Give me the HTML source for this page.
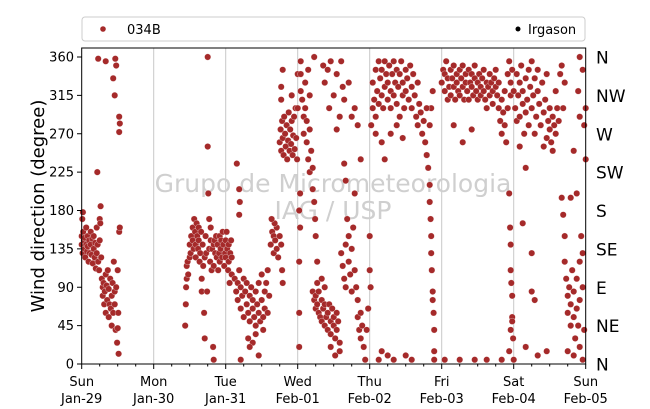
<!DOCTYPE html>
<html><head><meta charset="utf-8"><style>
body{margin:0;background:#fff;}
svg{display:block;font-family:"DejaVu Sans","Liberation Sans",sans-serif;}
</style></head><body>
<svg id="chart" width="650" height="409" viewBox="0 0 650 409">
<g id="grid"></g>
<text x="333" y="192" text-anchor="middle" font-size="25" fill="#cfcfcf">Grupo de Micrometeorologia</text>
<text x="333" y="219" text-anchor="middle" font-size="25" fill="#cfcfcf">IAG / USP</text>
<g id="pts"></g>
<rect x="81.7" y="48" width="504" height="316" fill="none" stroke="#000" stroke-width="1"/>
<g id="axes"></g>
<text transform="translate(44,206) rotate(-90)" text-anchor="middle" font-size="18">Wind direction (degree)</text>
<g>
<rect x="82" y="17" width="503" height="24" rx="3" fill="#fff" stroke="#ccc"/>
<circle cx="103" cy="29" r="2.8" fill="#a52a2a"/>
<text x="127" y="34" font-size="13">034B</text>
<circle cx="518" cy="29" r="2.5" fill="#000"/>
<text x="528" y="34" font-size="13">Irgason</text>
</g>
</svg>
<script>
const dayNames=["Sun","Mon","Tue","Wed","Thu","Fri","Sat","Sun"];
const dayDates=["Jan-29","Jan-30","Jan-31","Feb-01","Feb-02","Feb-03","Feb-04","Feb-05"];
const yTicks=[0,45,90,135,180,225,270,315,360];
const compass=["N","NE","E","SE","S","SW","W","NW","N"];
const samples=[
[0,150],[0,140],[0.3,130],[0.5,155],[0.7,145],[1,135],[1,148],[1.2,125],[1.5,160],[1.5,140],[1.8,132],[2,150],[2,138],[2.3,120],[2.5,145],[2.7,130],[3,155],[3,140],[3.3,128],[3.5,147],[3.7,118],[4,135],[4,150],[4.3,125],[4.5,142],[4.7,112],[5,130],[5,160],[5.3,140],[5.5,120],[0.2,170],[0.4,178],[5.2,225],[5.8,110],[6,145],[6,170],[6.3,185],[6.5,125],[6.2,165],
[6.7,100],[7,90],[7,80],[7.3,95],[7.5,70],[7.7,85],[8,105],[8,60],[8.3,92],[8.5,75],[8.7,110],[9,88],[9,55],[9.3,70],[9.5,100],[9.7,65],[10,80],[10,45],[10.3,95],[10.5,60],[10.7,120],[11,85],[11,70],[11.3,40],[11.5,90],[11.8,25],[12,42],[12,110],[12.2,60],[12.5,155],[12.7,160],[12.3,12],
[5.5,358],[8,355],[11.2,358],[11.5,350],[10.5,335],[11,315],[12.5,290],[12.7,282],[12.5,272],
[34.5,45],[34.7,70],[34.8,90],[35,100],[35,115],[35.3,120],[35.5,105],[36,125],[36,140],[36.3,130],[36.5,150],[37,145],[37,160],[37.3,135],[37.5,170],[37.8,155],[38,140],[38,125],[38.3,165],[38.5,150],[38.8,135],[39,145],[39,160],[39.3,120],[39.5,130],[39.8,155],[40,100],[40,85],[40.3,140],[40.5,115],[40.8,60],[41,30],[41,125],[41.3,150],[41.5,130],[41.8,85],[42,360],[42,255],[42.2,200],[42.5,170],[42.5,135],[42.8,120],[43,145],[43,160],[43.3,110],[43.5,135],[43.8,20],[44,5],[44,115],[44,140],[44.3,145],[44.5,130],[44.8,150],[45,125],[45.3,140],[45.5,110],[45.8,130],[46,150],[46,120],[46.3,135],[46.5,145],[46.8,125],[47,155],[47.2,140],[47.5,115],[47.8,130],[48,145],[48,125],[48.3,155],[48.5,135],[48.8,110],[49,140],[49,120],[49.3,95],[49.5,130],[49.8,145],[50,105],[50,125],
[51.7,235],[52.5,205],[52.5,175],[52.7,190],[53,5],
[51,100],[51.5,85],[52,95],[52,75],[52.5,110],[53,90],[53,65],[53.5,80],[54,100],[54,55],[54.5,85],[55,70],[55,95],[55.5,60],[56,80],[56,50],[56.5,90],[57,65],[57,75],[57.5,55],[58,85],[58,45],[58.5,70],[59,60],[59,95],[59.5,50],[60,75],[60,105],[60.5,55],[61,85],[61,65],[61.5,95],[62,60],[62,110],[62.5,80],[55.5,30],[57,25],[58,35],[60.5,40],[56,20],[59,10],
[63,140],[63.5,155],[64,130],[64,150],[64.5,145],[65,160],[65,135],[65.5,125],[66,150],[66.5,140],[64.3,165],[63.3,170],[66.8,110],[67,95],
[66,260],[66.3,275],[66.5,250],[66.8,285],[67,265],[67.3,245],[67.5,290],[67.8,270],[68,255],[68.3,280],[68.5,240],[68.8,262],[69,295],[69.3,250],[69.5,275],[69.8,258],[70,285],[70.3,245],[70.5,268],[70.8,290],[71,252],[71.3,300],[71.5,265],[71.8,240],[66.5,310],[66.5,325],[67,345],[70,315],[72,300],[72,340],
[72.5,20],[72.5,60],[72.5,120],[72.8,160],[72.5,180],[72.8,200],[73,355],[73,340],[73,320],
[73.5,310],[74,290],[74,270],[74.5,300],[75,260],[75,285],[75.5,240],[76,275],[76,225],[76.5,250],[77,205],[77,230],[77.5,190],[77.8,170],[78,150],[78.5,120],[78.5,95],[74.5,330],[75.5,345],[76,315],[77.5,360],
[77,85],[77.5,75],[78,80],[78,65],[78.5,70],[79,60],[79,85],[79.5,55],[80,75],[80,50],[80.5,65],[81,45],[81,70],[81.5,55],[82,60],[82,40],[82.5,70],[83,50],[83,35],[83.5,65],[84,45],[84,55],[84.5,30],[85,60],[85,40],[85.5,50],[86,25],[80,100],[81,90],[83,20],[84.5,10],[86,15],
[80.5,350],[81,330],[82,345],[82.5,300],[83,355],[84,315],[85,340],[86,290],[86.5,355],[87,325],[87.5,310],[85,275],[87.5,235],[88,215],
[86.5,130],[87,115],[87.5,100],[88,140],[88,90],[88.5,170],[89,150],[89,120],[89.5,105],[90,135],[90,85],[90.5,160],[91,110],[91.5,90],[92,75],[92,55],[92.5,40],[93,60],[93,30],[93.5,45],[94,20],[94.5,5],[95,40],[95.5,65],[96,110],[96,150],[96.3,90],[91,200],[93,240],[90,290],[91,300],[92,280],[89,330],
[96.5,280],[97,300],[97,330],[97.5,310],[98,290],[98,345],[98.5,320],[99,305],[99,355],[99.5,335],[100,315],[100,345],[100.5,300],[101,325],[101,355],[101.5,340],[102,310],[102,330],[102.5,350],[103,320],[103,300],[103.5,340],[104,355],[104,315],[104.5,330],[105,345],[105,305],[105.5,325],[106,340],[106,290],[106.5,355],[107,315],[107,330],[107.5,300],[108,345],[108,320],[108.5,335],[109,310],[109.5,350],[110,325],[110,300],[110.5,340],[111,315],[111.5,290],[112,330],[112,280],[112.5,305],[113,295],[113.5,270],[114,285],[114.5,260],[98,270],[100,260],[101,240],[103,270],[105,280],[107,265],[99,5],[100,15],[102,10],[104,5],[108,10],[110,5],
[115,245],[115.5,230],[116,210],[116,190],[116.3,170],[116.5,150],[116.5,130],[116.7,110],[117,85],[117,75],[117.3,60],[117.5,40],[117.5,15],[116,280],[116.5,300],[117,320],[117.5,5],[115,300],
[120,330],[120.5,345],[121,320],[121,340],[121.5,355],[122,310],[122,335],[122.5,325],[123,345],[123,315],[123.5,335],[124,350],[124,325],[124.5,310],[125,340],[125,330],[125.5,320],[126,345],[126,315],[126.5,335],[127,325],[127,350],[127.5,310],[128,340],[128,330],[128.5,320],[129,345],[129,310],[129.5,330],[130,325],[130,340],[130.5,315],[131,335],[131,350],[131.5,320],[132,330],[132,310],[132.5,340],[133,325],[133,315],[133.5,335],[134,320],[134,345],[134.5,310],[135,330],[135,300],[135.5,325],[136,315],[136,340],[136.5,330],[137,320],[137,305],[137.5,335],[138,325],[138,345],[138.5,315],[139,330],[139,300],[139.5,285],[140,310],[140,270],[140.5,295],[141,280],[141,320],[141.5,260],[142,300],[142,340],[142.5,355],[143,330],[143,315],[143.5,345],[124,280],[127,260],[130,275],[121,5],[126,5],[131,5],[135,5],[140,5],
[142.5,200],[142.8,160],[143,140],[143,110],[143.2,95],[143.5,80],[143.5,55],[143.5,50],[143,40],[142.5,15],[144,5],[143.8,30],
[144,320],[144.5,300],[145,340],[145,285],[145.5,315],[146,330],[146,290],[146.5,350],[147,305],[147,320],[147.5,270],[148,335],[148,295],[148.5,310],[149,345],[149,280],[149.5,325],[150,300],[150,355],[150.5,315],[151,335],[151,270],[151.5,290],[152,320],[152,345],[152.5,305],[153,280],[153.5,330],[154,295],[154,255],[154.5,310],[155,265],[155,340],[155.5,285],[156,275],[156,300],[156.5,260],[157,290],[157,250],[157.5,280],[158,270],[158.5,300],[158,320],[159,285],[159.5,340],[160,350],[160.5,300],[161,330],[148,230],[146,255],[150,85],[147,165],[150,130],[151,75],[148,20],[152,10],[155,15],
[160,195],[160.5,175],[161,150],[161,120],[161.5,100],[162,80],[162,60],[162.5,90],[163,70],[163,45],[163.5,110],[164,55],[164,85],[164.5,30],[165,65],[165,100],[165.5,45],[166,120],[166,75],[166.5,150],[167,130],[167,90],[167.5,40],[162,15],[164,10],[166,20],[167,5],[163,195],[165,200],[164,250],[166,360],[167,345],[167.5,280],[168,300],[166,290],[168,240],[165.5,320]
];
const NS="http://www.w3.org/2000/svg";
const X0=81.7,X1=585.7,Y0=364,Y360=57;
function xScale(h){return X0+(h/168)*(X1-X0);}
function yScale(d){return Y0-(d/360)*(Y0-Y360);}
function mk(tag,attrs,parent){const e=document.createElementNS(NS,tag);for(const k in attrs)e.setAttribute(k,attrs[k]);parent.appendChild(e);return e;}
const grid=document.getElementById('grid'),axes=document.getElementById('axes'),pts=document.getElementById('pts');
dayNames.forEach((n,i)=>{
  const x=xScale(i*24);
  if(i>0&&i<7){const l=mk('line',{x1:x,x2:x,y1:48,y2:364,stroke:'#c8c8c8','stroke-width':1},grid);
  
  }
  const t=mk('line',{x1:x,x2:x,y1:364,y2:369,stroke:'#000'},axes);
  
  
  const a=mk('text',{x:x,y:386,'text-anchor':'middle','font-size':13},axes);a.textContent=n;
  
  
  const b=mk('text',{x:x,y:403,'text-anchor':'middle','font-size':13},axes);b.textContent=dayDates[i];
  
  
  if(i<7){for(let k=1;k<4;k++){const xm=xScale(i*24+k*6);const m=mk('line',{x1:xm,x2:xm,y1:364,y2:366.5,stroke:'#000'},axes);
    
    }}
});
yTicks.forEach((v,i)=>{
  const y=yScale(v);
  const t=mk('line',{x1:77,x2:81.7,y1:y,y2:y,stroke:'#000'},axes);
  
  
  const l=mk('text',{x:74,y:y+4.5,'text-anchor':'end','font-size':13},axes);l.textContent=v;
  
  
  const c=mk('text',{x:596,y:y+6.5,'font-size':17},axes);c.textContent=compass[i];
  
  
});
samples.forEach(s=>{
  const c=mk('circle',{cx:xScale(s[0]),cy:yScale(s[1]),r:3.2,fill:'#a52a2a',stroke:'#fff','stroke-width':0.3},pts);
  
  
});
</script>
</body></html>
